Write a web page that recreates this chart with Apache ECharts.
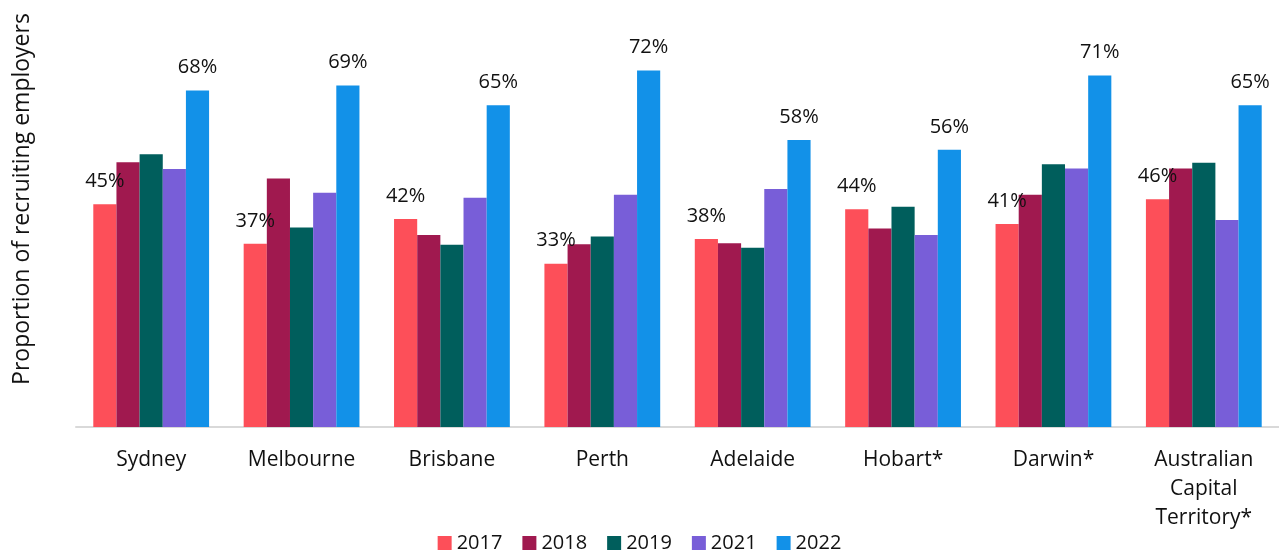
<!DOCTYPE html>
<html>
<head>
<meta charset="utf-8">
<script src="https://cdn.jsdelivr.net/npm/echarts@6/dist/echarts.min.js"></script>
<style>
  html, body { margin: 0; padding: 0; background: #fff; }
  #chart { width: 1279px; height: 553px; }
</style>
</head>
<body>
<div id="chart"></div>
<script>
const cities = ['Sydney', 'Melbourne', 'Brisbane', 'Perth', 'Adelaide', 'Hobart*', 'Darwin*', 'Australian\nCapital\nTerritory*'];
const years = ['2017', '2018', '2019', '2021', '2022'];

const v2017 = [45, 37, 42, 33, 38, 44, 41, 46];
const v2018 = [53.5, 50.2, 38.8, 36.9, 37.1, 40.1, 46.9, 52.2];
const v2019 = [55.1, 40.3, 36.8, 38.5, 36.2, 44.5, 53.1, 53.4];
const v2021 = [52.1, 47.3, 46.3, 46.9, 48.1, 38.8, 52.2, 41.8];
const v2022 = [68, 69, 65, 72, 58, 56, 71, 65];

const colors = ['#fd4f59', '#a0194f', '#005e5c', '#785ed8', '#1291e8'];
const font = '"Open Sans", "Noto Sans", sans-serif';

const chart = echarts.init(document.getElementById('chart'));

// only the 2017 and 2022 bars carry value labels
const labelled = { 0: true, 4: true };
const seriesData = [v2017, v2018, v2019, v2021, v2022];

const series = seriesData.map((vals, i) => ({
  name: years[i],
  type: 'bar',
  data: vals,
  barGap: '0%',
  barCategoryGap: '23%',
  itemStyle: { color: colors[i] },
  label: {
    show: !!labelled[i],
    position: 'top',
    distance: 13,
    formatter: p => p.value + '%',
    color: '#111',
    fontFamily: font,
    fontSize: 20
  }
}));

chart.setOption({
  animation: false,
  grid: { left: 76, right: 0, top: 31, bottom: 126 },
  legend: {
    top: 533,
    left: 'center',
    padding: 0,
    itemWidth: 14,
    itemHeight: 14,
    itemGap: 20,
    icon: 'rect',
    textStyle: { fontFamily: font, fontSize: 20, color: '#111' },
    data: years
  },
  xAxis: {
    type: 'category',
    data: cities,
    axisLine: { lineStyle: { color: '#d9d9d9', width: 2 } },
    axisTick: { show: false },
    axisLabel: {
      color: '#111',
      fontFamily: font,
      fontSize: 21,
      lineHeight: 29,
      margin: 19,
      interval: 0
    }
  },
  yAxis: {
    type: 'value',
    min: 0,
    max: 80,
    show: false
  },
  graphic: [{
    type: 'text',
    x: 22,
    y: 199,
    rotation: Math.PI / 2,
    style: {
      text: 'Proportion of recruiting employers',
      fill: '#111',
      font: '23px ' + font,
      textAlign: 'center',
      textVerticalAlign: 'middle'
    }
  }],
  series: series
});
</script>
</body>
</html>
